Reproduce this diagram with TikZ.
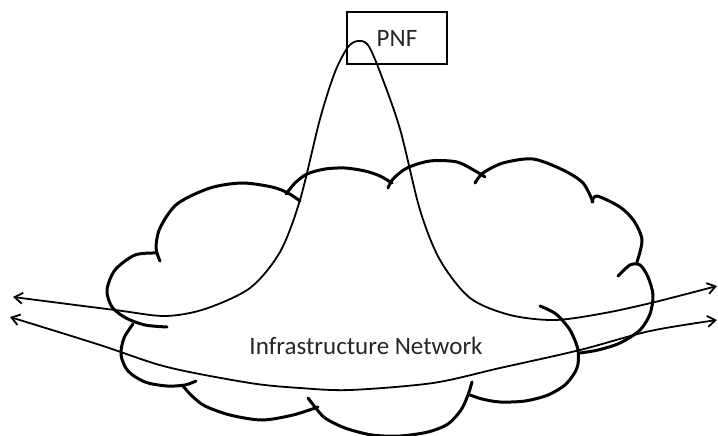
\documentclass[tikz,border=0pt]{standalone}
\usepackage{fontspec}
\setmainfont{Carlito}
\usetikzlibrary{arrows.meta}

\begin{document}
\begin{tikzpicture}[x=1pt, y=-1pt,
    box/.style={draw, line width=2.8pt, minimum width=100pt, minimum height=52pt,
                inner sep=0pt, font=\fontsize{25}{30}\selectfont, text=black!85},
    lbl/.style={font=\fontsize{25}{30}\selectfont, text=black!85},
    puff/.style={line width=3pt, line cap=round, line join=round},
    link/.style={{Straight Barb[length=8pt,width=11pt]}-{Straight Barb[length=8pt,width=11pt]},
                 line width=1.8pt},
]
\useasboundingbox (0,0) rectangle (718,436);

% ── Nodes ─────────────────────────────────────────────
\node[box] (pnf) at (397,38) {PNF};
\node[lbl] (infra) at (366,346) {Infrastructure Network};

% ── Cloud outline (one arc per puff) ──────────────────
\draw[puff] plot[smooth] coordinates {(160,261) (156,248) (160,228) (177,204) (210,188)
    (242,183) (272,187) (288,193) (300,201)};
\draw[puff] plot[smooth] coordinates {(286,194) (295,183) (307,174) (325,169) (345,168)
    (365,171) (380,176) (392,183)};
\draw[puff] plot[smooth] coordinates {(388,188) (393,179) (407,168) (430,161) (457,162)
    (477,172) (485,177)};
\draw[puff] plot[smooth] coordinates {(475,183) (483,173) (503,163) (533,159) (563,170)
    (583,183) (593,202)};
\draw[puff] plot[smooth] coordinates {(592,202) (597,196) (620,207) (634,221) (642,240)
    (637,262)};
\draw[puff] plot[smooth] coordinates {(618,276) (630,265) (640,265) (648,277) (653,295)
    (650,314) (640,330) (620,343) (598,350) (580,353)};
\draw[puff] plot[smooth] coordinates {(540,306) (556,314) (570,330) (578,350) (577,368)
    (566,384) (548,395) (525,401) (500,402) (482,399) (470,395)};
\draw[puff] plot[smooth] coordinates {(472,382) (468,395) (461,410) (448,424) (428,432)
    (400,436) (372,435) (345,428) (325,418) (315,407) (308,398)};
\draw[puff] plot[smooth] coordinates {(183,386) (192,396) (205,406) (230,415) (262,420)
    (293,415) (318,407)};
\draw[puff] plot[smooth] coordinates {(133,324) (124,338) (121,355) (128,371) (145,382)
    (167,386) (185,385) (196,381)};
\draw[puff] plot[smooth] coordinates {(157,253) (135,255) (115,270) (107,290) (112,307)
    (126,318) (145,325) (167,327)};

% ── Free ends of the links ────────────────────────────
\coordinate (w1) at (13,297);
\coordinate (e1) at (717,286);
\coordinate (w2) at (10,317);
\coordinate (e2) at (717,320);

% ── Link looping up through PNF ───────────────────────
\draw[link] plot[smooth] coordinates {(w1) (115,310) (165,316) (205,309) (250,288)
    (280,252) (300,200) (320,119) (335,72) (348,47) (358,41) (368,45) (380,72)
    (400,129) (420,210) (440,260) (470,298) (510,315) (555,320) (605,313) (655,302) (e1)};

% ── Link straight across the network ──────────────────
\draw[link] plot[smooth] coordinates {(w2) (100,345) (167,367) (250,383) (300,388)
    (350,390) (433,383) (500,368) (580,350) (650,331) (e2)};

\end{tikzpicture}
\end{document}
